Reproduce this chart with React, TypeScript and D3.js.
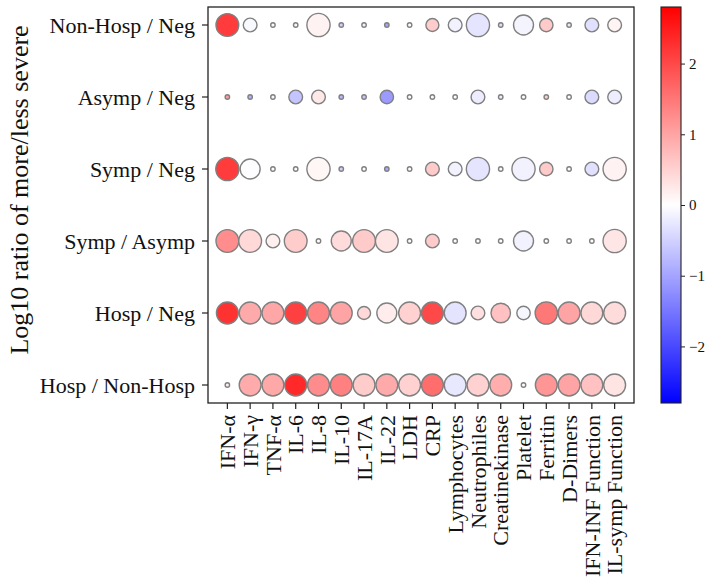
import React, { useEffect, useRef } from 'react';
import * as d3 from 'd3';

const markers = [
  'IFN-α', 'IFN-γ', 'TNF-α', 'IL-6', 'IL-8', 'IL-10', 'IL-17A', 'IL-22', 'LDH', 'CRP',
  'Lymphocytes', 'Neutrophiles', 'Creatinekinase', 'Platelet', 'Ferritin', 'D-Dimers',
  'IFN-INF Function', 'IL-symp Function',
];

const comparisons = [
  'Non-Hosp / Neg', 'Asymp / Neg', 'Symp / Neg', 'Symp / Asymp', 'Hosp / Neg', 'Hosp / Non-Hosp',
];

// log10 ratio (colour), one row per comparison
const logRatios: number[][] = [
  [2.15, -0.08, -0.05, -0.1, 0.14, -0.5, -0.15, -1.0, 0, 0.56, -0.14, -0.28, -0.35, -0.12, 0.58, -0.25, -0.33, 0.12],
  [1.1, -0.85, -0.1, -0.65, 0.25, -0.78, -0.6, -1.1, 0, 0.05, 0, -0.2, -0.2, 0, 0.5, 0, -0.4, -0.2],
  [2.15, -0.02, 0, -0.05, 0.1, -0.5, 0, -0.95, 0, 0.58, -0.14, -0.28, -0.05, -0.14, 0.58, 0, -0.33, 0.14],
  [1.25, 0.43, 0.16, 0.56, 0, 0.4, 0.58, 0.3, 0, 0.58, 0, 0, 0, -0.14, 0, 0, 0, 0.28],
  [2.25, 0.93, 0.97, 2.1, 1.35, 1.0, 0.43, 0.2, 0.5, 2.0, -0.3, 0.35, 0.68, -0.1, 1.48, 1.0, 0.43, 0.38],
  [0.2, 0.92, 0.95, 2.35, 1.26, 1.4, 0.56, 0.93, 0.5, 1.6, -0.25, 0.5, 0.9, 0, 1.16, 1.0, 0.68, 0.3],
];

// marker size (significance), same layout
const significance: number[][] = [
  [26, 9.5, 1, 1, 27, 1, 1, 1, 1, 8.5, 9.5, 27, 1, 20, 9, 1, 9.5, 9.5],
  [1, 1, 1, 9.5, 9.5, 1, 1, 9, 1, 1, 1, 9.5, 1, 1, 1, 1, 9.5, 9.5],
  [27, 20, 1, 1, 27, 1, 1, 1, 1, 9.5, 9.5, 27, 1, 27, 9, 1, 9.5, 27],
  [26, 26, 9.5, 26, 1, 20, 26, 26, 1, 9.5, 1, 1, 1, 20, 1, 1, 1, 27],
  [24, 24, 24, 24, 24, 24, 8.5, 20, 24, 24, 24, 9.5, 19, 9, 25, 24, 24, 24],
  [1, 24, 24, 24, 24, 24, 24, 24, 24, 24, 24, 24, 24, 1, 24, 24, 24, 24],
];

const colorTicks = [-2, -1, 0, 1, 2];

const BubbleMatrix: React.FC = () => {
  const svgRef = useRef<SVGSVGElement>(null);

  useEffect(() => {
    if (!svgRef.current) return;
    const svg = d3.select(svgRef.current);
    svg.selectAll('*').remove();

    const font = '"Liberation Serif", "Times New Roman", serif';
    const plot = { left: 208, right: 634, top: 7, bottom: 403 };

    const xScale = d3.scalePoint<string>().domain(markers).range([plot.left, plot.right]).padding(0.85);
    const yScale = d3.scalePoint<string>().domain(comparisons).range([plot.top, plot.bottom]).padding(0.25);
    const rScale = d3.scaleSqrt().domain([0, 27]).range([0, 11.6]);
    const color = d3.scaleLinear<string>().domain([-2.8, 0, 2.8]).range(['#0000ff', '#ffffff', '#ff0000']);

    // Bubbles
    const cells = comparisons.flatMap((row, i) =>
      markers.map((col, j) => ({ row, col, v: logRatios[i][j], s: significance[i][j] }))
    );
    svg.append('g')
      .selectAll('circle')
      .data(cells)
      .join('circle')
      .attr('cx', d => xScale(d.col)!)
      .attr('cy', d => yScale(d.row)!)
      .attr('r', d => rScale(d.s))
      .attr('fill', d => color(d.v))
      .attr('stroke', '#808080')
      .attr('stroke-width', 1.4);

    // Frame
    svg.append('rect')
      .attr('x', plot.left)
      .attr('y', plot.top)
      .attr('width', plot.right - plot.left)
      .attr('height', plot.bottom - plot.top)
      .attr('fill', 'none')
      .attr('stroke', '#222')
      .attr('stroke-width', 1.3);

    // Y ticks
    const yt = svg.append('g');
    comparisons.forEach(c => {
      const y = yScale(c)!;
      yt.append('line').attr('x1', plot.left - 6).attr('x2', plot.left).attr('y1', y).attr('y2', y)
        .attr('stroke', '#222').attr('stroke-width', 1.2);
      yt.append('text')
        .attr('x', plot.left - 13)
        .attr('y', y)
        .attr('dy', '0.35em')
        .attr('text-anchor', 'end')
        .attr('font-family', font)
        .attr('font-size', 22)
        .attr('fill', '#111')
        .text(c);
    });

    // X ticks
    const xt = svg.append('g');
    markers.forEach(m => {
      const x = xScale(m)!;
      xt.append('line').attr('x1', x).attr('x2', x).attr('y1', plot.bottom).attr('y2', plot.bottom + 6)
        .attr('stroke', '#222').attr('stroke-width', 1.2);
      xt.append('text')
        .attr('transform', `translate(${x},${plot.bottom + 12}) rotate(-90)`)
        .attr('dy', '0.35em')
        .attr('text-anchor', 'end')
        .attr('font-family', font)
        .attr('font-size', 22)
        .attr('fill', '#111')
        .text(m);
    });

    // Y label
    svg.append('text')
      .attr('transform', 'translate(28,190) rotate(-90)')
      .attr('text-anchor', 'middle')
      .attr('font-family', font)
      .attr('font-size', 26)
      .attr('fill', '#111')
      .text('Log10 ratio of more/less severe');

    // Colorbar
    const cb = { x: 661, w: 20 };
    const cbScale = d3.scaleLinear().domain([-2.8, 2.8]).range([plot.bottom, plot.top]);
    const grad = svg.append('defs').append('linearGradient')
      .attr('id', 'bwr').attr('x1', 0).attr('y1', 1).attr('x2', 0).attr('y2', 0);
    grad.append('stop').attr('offset', '0%').attr('stop-color', '#0000ff');
    grad.append('stop').attr('offset', '50%').attr('stop-color', '#ffffff');
    grad.append('stop').attr('offset', '100%').attr('stop-color', '#ff0000');
    svg.append('rect')
      .attr('x', cb.x).attr('y', plot.top)
      .attr('width', cb.w).attr('height', plot.bottom - plot.top)
      .attr('fill', 'url(#bwr)')
      .attr('stroke', '#222').attr('stroke-width', 1.1);

    const cbAxis = d3.axisRight(cbScale)
      .tickValues(colorTicks)
      .tickSize(4)
      .tickPadding(4)
      .tickFormat(d => (Number(d) < 0 ? `\u2212${Math.abs(Number(d))}` : `${d}`));
    const cbG = svg.append('g').attr('transform', `translate(${cb.x + cb.w},0)`).call(cbAxis);
    cbG.select('.domain').remove();
    cbG.selectAll('line').attr('stroke', '#222');
    cbG.selectAll('text')
      .attr('font-family', font)
      .attr('font-size', 15)
      .attr('fill', '#111');
  }, []);

  return (
    <svg
      ref={svgRef}
      width={711}
      height={581}
      style={{ position: 'absolute', left: 0, top: 0, background: '#fff' }}
    />
  );
};

export default function App() {
  return <BubbleMatrix />;
}
